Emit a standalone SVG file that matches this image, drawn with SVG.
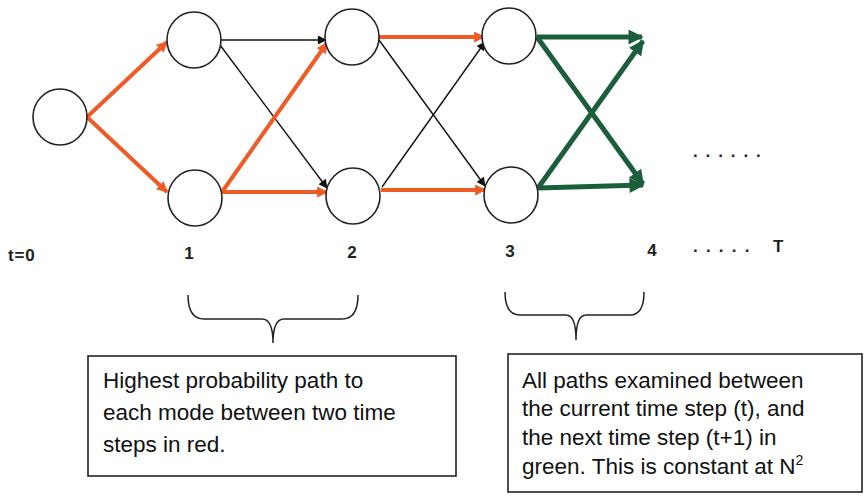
<svg xmlns="http://www.w3.org/2000/svg" width="866" height="496" viewBox="0 0 866 496">
<defs>
<style>
.node{fill:#fff;stroke:#222;stroke-width:1.6}
.red{stroke:#ef5b26;stroke-width:4;fill:none}
.grn{stroke:#1b5e3b;stroke-width:5;fill:none}
.blk{stroke:#111;stroke-width:1.4;fill:none}
.lbl{font-family:"Liberation Sans",Arial,sans-serif;font-size:17px;font-weight:bold;fill:#222}
.txt{font-family:"Liberation Sans",Arial,sans-serif;font-size:22.5px;fill:#111}
.box{fill:#fff;stroke:#222;stroke-width:1.6}
.brace{fill:none;stroke:#222;stroke-width:1.5}
</style>
<marker id="mr" viewBox="0 0 10 10" refX="9" refY="5" markerUnits="userSpaceOnUse" markerWidth="13" markerHeight="11" orient="auto"><path d="M0,0 L10,5 L0,10 z" fill="#ef5b26"/></marker>
<marker id="mg" viewBox="0 0 10 10" refX="9" refY="5" markerUnits="userSpaceOnUse" markerWidth="16" markerHeight="15" orient="auto"><path d="M0,0 L10,5 L0,10 z" fill="#1b5e3b"/></marker>
<marker id="mb" viewBox="0 0 10 10" refX="9" refY="5" markerUnits="userSpaceOnUse" markerWidth="11" markerHeight="9" orient="auto"><path d="M0,0 L10,5 L0,10 z" fill="#111"/></marker>
</defs>
<rect width="866" height="496" fill="#fff"/>
<g id="connectors">
<line class="red" x1="87" y1="117" x2="167" y2="42" marker-end="url(#mr)"/>
<line class="red" x1="87" y1="117" x2="167" y2="192" marker-end="url(#mr)"/>
<line class="blk" x1="221" y1="40" x2="326" y2="40" marker-end="url(#mb)"/>
<line class="blk" x1="220" y1="45" x2="327" y2="188" marker-end="url(#mb)"/>
<line class="red" x1="222" y1="192" x2="327" y2="43" marker-end="url(#mr)"/>
<line class="red" x1="222" y1="192" x2="327" y2="192" marker-end="url(#mr)"/>
<line class="red" x1="379" y1="37" x2="484" y2="37" marker-end="url(#mr)"/>
<line class="blk" x1="379" y1="40" x2="485" y2="186" marker-end="url(#mb)"/>
<line class="blk" x1="382" y1="187" x2="485" y2="42" marker-end="url(#mb)"/>
<line class="red" x1="381" y1="190" x2="485" y2="190" marker-end="url(#mr)"/>
<line class="grn" x1="537" y1="37" x2="642" y2="37" marker-end="url(#mg)"/>
<line class="grn" x1="537" y1="37" x2="643" y2="184" marker-end="url(#mg)"/>
<line class="grn" x1="538" y1="188" x2="643" y2="41" marker-end="url(#mg)"/>
<line class="grn" x1="538" y1="188" x2="643" y2="185" marker-end="url(#mg)"/>
</g>
<g id="n0"><ellipse class="node" cx="60" cy="117" rx="27" ry="28"/></g>
<g id="n1a"><ellipse class="node" cx="194" cy="40" rx="27" ry="28"/></g>
<g id="n1b"><ellipse class="node" cx="195" cy="198" rx="27" ry="28"/></g>
<g id="n2a"><ellipse class="node" cx="352" cy="37" rx="27" ry="28"/></g>
<g id="n2b"><ellipse class="node" cx="353" cy="196" rx="27" ry="28"/></g>
<g id="n3a"><ellipse class="node" cx="509" cy="36" rx="27" ry="28"/></g>
<g id="n3b"><ellipse class="node" cx="511" cy="195" rx="27" ry="28"/></g>
<g id="labels">
<text class="lbl" x="8" y="261" letter-spacing="0.8">t=0</text>
<text class="lbl" x="189" y="259" text-anchor="middle">1</text>
<text class="lbl" x="352" y="258" text-anchor="middle">2</text>
<text class="lbl" x="510" y="257" text-anchor="middle">3</text>
<text class="lbl" x="652" y="256" text-anchor="middle">4</text>
<text class="lbl" x="693" y="157" letter-spacing="7.9">......</text>
<text class="lbl" x="693" y="252" letter-spacing="8.2">.....</text>
<text class="lbl" x="773" y="252">T</text>
</g>
<g id="brace1"><path class="brace" d="M188,295 Q188,319 204,319 L262,319 Q273,319 273,343 Q273,319 284,319 L342,319 Q358,319 358,295"/></g>
<g id="brace2"><path class="brace" d="M505,292 Q505,315 520,315 L566,315 Q576,315 576,340 Q576,315 586,315 L630,315 Q644,315 644,292"/></g>
<g id="box1">
<rect class="box" x="88" y="356" width="368" height="120"/>
<text class="txt" x="103" y="388">Highest probability path to</text>
<text class="txt" x="103" y="420">each mode between two time</text>
<text class="txt" x="103" y="452">steps in red.</text>
</g>
<g id="box2">
<rect class="box" x="508" y="354" width="354" height="138"/>
<text class="txt" x="522" y="388">All paths examined between</text>
<text class="txt" x="522" y="416">the current time step (t), and</text>
<text class="txt" x="522" y="445">the next time step (t+1) in</text>
<text class="txt" x="522" y="474">green. This is constant at N<tspan font-size="14" dy="-9">2</tspan></text>
</g>
</svg>
